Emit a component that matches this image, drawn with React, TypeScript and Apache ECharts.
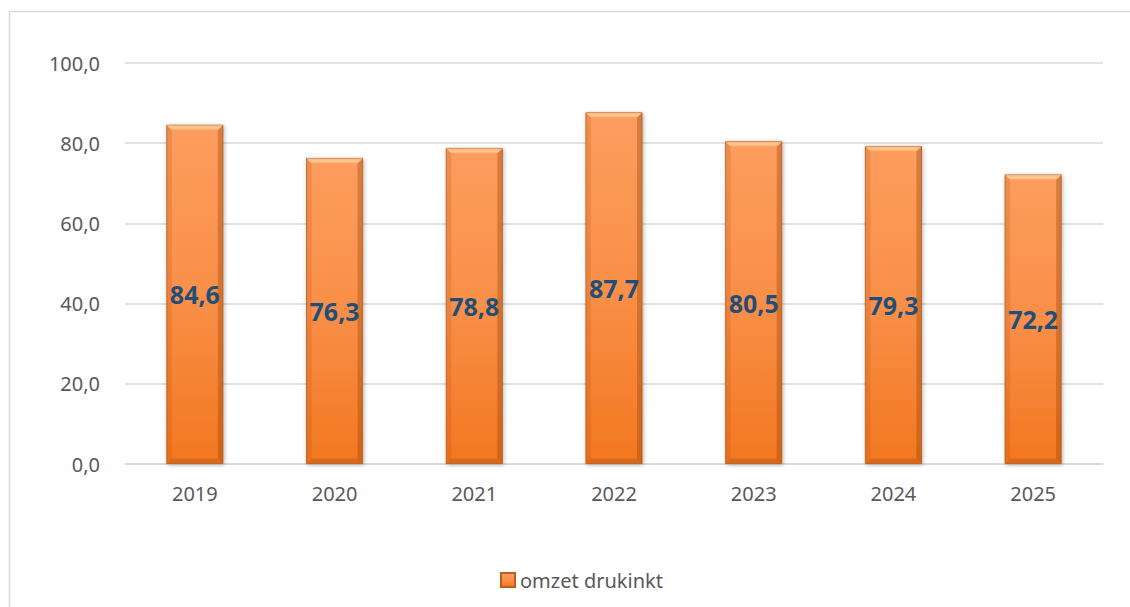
import React, { useEffect, useRef } from "react";
import * as echarts from "echarts";

const categories = ["2019", "2020", "2021", "2022", "2023", "2024", "2025"];
const values = [84.6, 76.3, 78.8, 87.7, 80.5, 79.3, 72.2];
const seriesName = "omzet drukinkt";
const yMin = 0;
const yMax = 100;
const yInterval = 20;

const FONT = "'Noto Sans', 'Open Sans', sans-serif";
const BAR_W = 57;

export default function App() {
  const ref = useRef<HTMLDivElement>(null);
  useEffect(() => {
    const chart = echarts.init(ref.current!, null, { renderer: "svg" });
    const fmt = (v: number) => v.toFixed(1).replace(".", ",");
    chart.setOption({
      animation: false,
      backgroundColor: "#ffffff",
      graphic: [
        {
          type: "rect",
          shape: { x: 9.5, y: 11.5, width: 1130, height: 620 },
          style: { fill: "none", stroke: "#D9D9D9", lineWidth: 1.5 },
          silent: true,
        },
      ],
      grid: { left: 125, right: 27, top: 63, bottom: 143 },
      legend: {
        data: [seriesName],
        left: 495,
        top: 565,
        itemWidth: 14,
        itemHeight: 14,
        itemGap: 6,
        icon: "rect",
        textStyle: { fontFamily: FONT, fontSize: 20, color: "#595959" },
      },
      xAxis: {
        type: "category",
        data: categories,
        axisLine: { lineStyle: { color: "#D9D9D9", width: 1.5 } },
        axisTick: { show: false },
        axisLabel: { fontFamily: FONT, fontSize: 20, color: "#595959", margin: 19 },
      },
      yAxis: {
        type: "value",
        min: yMin,
        max: yMax,
        interval: yInterval,
        axisLine: { show: false },
        axisTick: { show: false },
        splitLine: { lineStyle: { color: "#D9D9D9", width: 1.5 } },
        axisLabel: {
          fontFamily: FONT,
          fontSize: 20,
          color: "#595959",
          margin: 25,
          formatter: (v: number) => fmt(v),
        },
      },
      series: [
        {
          name: seriesName,
          type: "bar",
          data: values,
          barWidth: BAR_W,
          z: 2,
          itemStyle: {
            color: new echarts.graphic.LinearGradient(0, 0, 0, 1, [
              { offset: 0, color: "#FD9D5E" },
              { offset: 0.5, color: "#F98F48" },
              { offset: 1, color: "#F27720" },
            ]),
            borderColor: "#B5601F",
            borderWidth: 0.8,
            shadowColor: "rgba(0,0,0,0.3)",
            shadowBlur: 4,
            shadowOffsetX: 1,
            shadowOffsetY: 1,
          },
          label: {
            show: true,
            position: "inside",
            formatter: (p: any) => fmt(p.value),
            fontFamily: FONT,
            fontSize: 25,
            fontWeight: "bold",
            color: "#1F4E79",
          },
        },
        {
          name: "bevel",
          type: "custom",
          z: 3,
          silent: true,
          data: values.map((v, i) => [i, v]),
          renderItem: (params: any, api: any) => {
            const idx = api.value(0);
            const top = api.coord([idx, api.value(1)]);
            const bot = api.coord([idx, 0]);
            const x0 = top[0] - BAR_W / 2 + 0.5;
            const x1 = top[0] + BAR_W / 2 - 0.5;
            const y0 = top[1] + 0.5;
            const y1 = bot[1] - 0.5;
            const b = 5;
            return {
              type: "group",
              children: [
                {
                  type: "polygon",
                  shape: { points: [[x0, y0], [x1, y0], [x1 - b, y0 + b], [x0 + b, y0 + b]] },
                  style: {
                    fill: new echarts.graphic.LinearGradient(0, 0, 0, 1, [
                      { offset: 0, color: "#F9B27E" },
                      { offset: 0.5, color: "#FFCB96" },
                      { offset: 1, color: "#FCA566" },
                    ]),
                  },
                },
                {
                  type: "polygon",
                  shape: { points: [[x0, y0], [x0 + b, y0 + b], [x0 + b, y1 - b], [x0, y1]] },
                  style: { fill: "rgba(170,70,10,0.18)" },
                },
                {
                  type: "polygon",
                  shape: { points: [[x1, y0], [x1 - b, y0 + b], [x1 - b, y1 - b], [x1, y1]] },
                  style: { fill: "rgba(140,55,0,0.32)" },
                },
                {
                  type: "polygon",
                  shape: { points: [[x0, y1], [x1, y1], [x1 - b, y1 - b], [x0 + b, y1 - b]] },
                  style: { fill: "rgba(150,60,0,0.25)" },
                },
              ],
            };
          },
        },
      ],
    });
    return () => chart.dispose();
  }, []);
  return (
    <div
      ref={ref}
      style={{ position: "fixed", left: 0, top: 0, width: 1130, height: 607 }}
    />
  );
}
